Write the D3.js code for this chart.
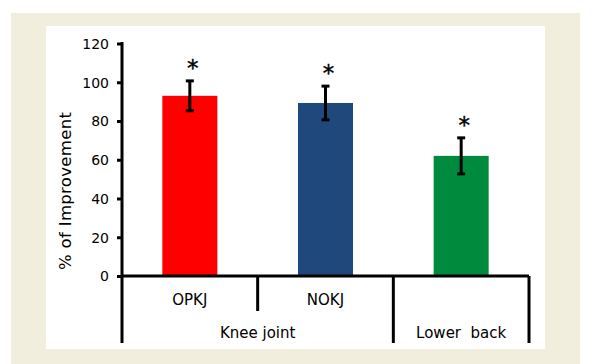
<!DOCTYPE html>
<html><head><meta charset="utf-8">
<script src="https://cdn.jsdelivr.net/npm/d3@7"></script>
<style>body{margin:0;background:#fff}svg{display:block}text{font-family:"DejaVu Sans",sans-serif;fill:#000}</style>
</head><body>
<script>
const categories = ["OPKJ", "NOKJ", "Lower back"];
const groups = ["Knee joint", "Knee joint", "Lower back"];
const values = [93, 89.3, 62];
const errors = [7.7, 8.7, 9.3];
const significant = [true, true, true];
const colors = ["#FF0000", "#1F497D", "#008A3E"];
const yTicks = [0, 20, 40, 60, 80, 100, 120];
const yLabel = "% of Improvement";

const W = 596, H = 364;
const svg = d3.select("body").append("svg").attr("width", W).attr("height", H);
svg.append("rect").attr("x", 11).attr("y", 13).attr("width", 569).attr("height", 360).attr("fill", "#F2EEDD");
svg.append("rect").attr("x", 46).attr("y", 26).attr("width", 499).attr("height", 323).attr("fill", "#fff");

const x0 = 122, x1 = 529, yBase = 276, yBottom = 343;
const y = d3.scaleLinear().domain([0, 120]).range([yBase, 43.5]);
const x = d3.scaleBand().domain(categories).range([x0, x1]).padding(0);
const bw = 55;

// bars
svg.selectAll(".bar").data(categories).enter().append("rect")
  .attr("x", (d) => x(d) + x.bandwidth() / 2 - bw / 2)
  .attr("y", (d, i) => y(values[i]))
  .attr("width", bw)
  .attr("height", (d, i) => y(0) - y(values[i]))
  .attr("fill", (d, i) => colors[i]);

// error bars
const eg = svg.append("g").attr("stroke", "#000").attr("stroke-width", 3);
categories.forEach((c, i) => {
  const cx = x(c) + x.bandwidth() / 2;
  const t = y(values[i] + errors[i]), b = y(values[i] - errors[i]);
  eg.append("line").attr("x1", cx).attr("x2", cx).attr("y1", t).attr("y2", b);
  eg.append("line").attr("x1", cx - 4).attr("x2", cx + 4).attr("y1", t).attr("y2", t);
  eg.append("line").attr("x1", cx - 4).attr("x2", cx + 4).attr("y1", b).attr("y2", b);
  if (significant[i]) {
    svg.append("text").attr("x", cx + 3).attr("y", t - 5)
      .attr("text-anchor", "middle").attr("font-size", 23)
      .attr("stroke", "#000").attr("stroke-width", 0.4).text("*");
  }
});

// y axis
const yAxis = d3.axisLeft(y).tickValues(yTicks).tickSize(5).tickPadding(8);
const ga = svg.append("g").attr("transform", `translate(${x0},0)`).call(yAxis);
ga.select(".domain").remove();
ga.selectAll(".tick line").attr("stroke", "#000").attr("stroke-width", 3);
ga.selectAll(".tick text").attr("font-size", 14).attr("font-family", "DejaVu Sans").attr("fill", "#000").attr("dy", "0.35em");

const axg = svg.append("g").attr("stroke", "#000").attr("stroke-width", 3).attr("fill", "none");
axg.append("line").attr("x1", x0).attr("x2", x0).attr("y1", y(120) - 1.5).attr("y2", yBottom);
axg.append("line").attr("x1", x0).attr("x2", x1).attr("y1", yBase).attr("y2", yBase);

// category dividers
categories.forEach((c, i) => {
  const right = x(c) + x.bandwidth();
  const sameGroupNext = i < categories.length - 1 && groups[i + 1] === groups[i];
  axg.append("line").attr("x1", right).attr("x2", right)
    .attr("y1", yBase).attr("y2", sameGroupNext ? 311 : yBottom);
});

// category labels (only when group has more than one member)
categories.forEach((c, i) => {
  const n = groups.filter(g => g === groups[i]).length;
  if (n > 1) {
    svg.append("text").attr("x", x(c) + x.bandwidth() / 2).attr("y", 305)
      .attr("text-anchor", "middle").attr("font-size", 15).text(c);
  }
});

// group labels
const uniq = Array.from(new Set(groups));
uniq.forEach(g => {
  const members = categories.filter((c, i) => groups[i] === g);
  const left = x(members[0]), right = x(members[members.length - 1]) + x.bandwidth();
  svg.append("text").attr("x", (left + right) / 2).attr("y", 338)
    .attr("text-anchor", "middle").attr("font-size", 15).style("white-space", "pre")
    .text(g.replace(" back", "  back"));
});

// y label
svg.append("text").attr("transform", "translate(71,191) rotate(-90)")
  .attr("text-anchor", "middle").attr("font-size", 16.5)
  .attr("textLength", 158).attr("lengthAdjust", "spacing").text(yLabel);
</script>
</body></html>
